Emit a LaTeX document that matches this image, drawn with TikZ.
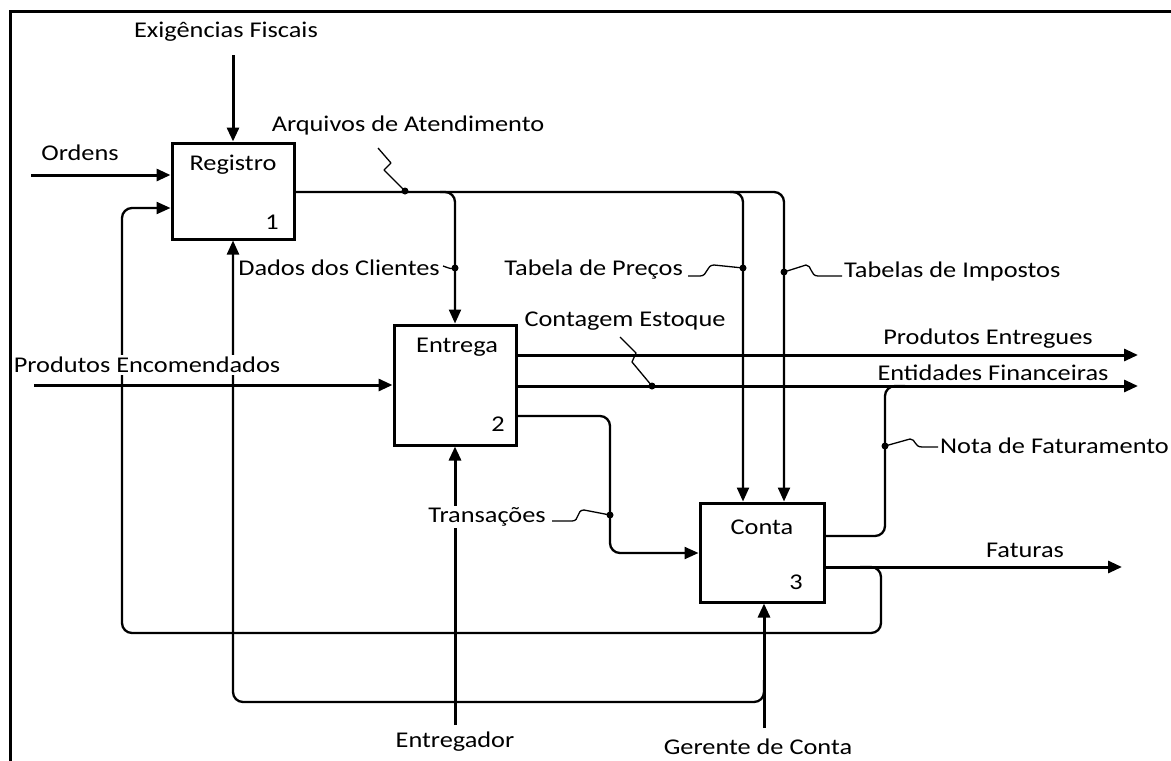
\documentclass[tikz,border=0pt]{standalone}
\usepackage{fontspec}
\setmainfont{Carlito}[FakeStretch=1.17]
\usetikzlibrary{arrows.meta}
\begin{document}
\begin{tikzpicture}[x=1pt,y=-1pt,
  font=\fontsize{22.5}{27}\selectfont,
  box/.style={draw, line width=3pt, inner sep=0pt},
  main/.style={line width=3pt},
  sub/.style={line width=2.3pt, rounded corners=10pt},
  arr/.style={-{Triangle[length=14pt,width=12pt]}},
  jdot/.style={circle, fill, inner sep=0pt, minimum size=7pt},
  squig/.style={line width=1.3pt, line join=round},
  lbl/.style={inner sep=1pt},
  cover/.style={fill=white, inner sep=2pt}]
\useasboundingbox (0,0) rectangle (1171,761);
% frame
\draw[line width=3pt] (10.5,761) -- (10.5,11) -- (1171,11);
% boxes
\node[box, minimum width=122pt, minimum height=96pt] (reg) at (233,191) {};
\node[box, minimum width=122pt, minimum height=120pt] (ent) at (455,385) {};
\node[box, minimum width=124pt, minimum height=99pt] (con) at (762,552.5) {};
% free ends
\coordinate (exigS) at (233,55);
\coordinate (ordW) at (31,175);
\coordinate (fb1) at (860,567);
\coordinate (gm) at (764,680);
\coordinate (encW) at (34,385);
\coordinate (entrS) at (455,725);
\coordinate (gerS) at (764,728);
% connectors
\draw[main,arr] (exigS) -- (reg.north);
\draw[main,arr] (ordW) -- (ordW -| reg.west);
\draw[sub,arr] (fb1) -| (881,633) -| (122,208) -- (reg.west |- 0,208);
\draw[sub,arr] (gm) |- (233,702) -- (reg.south);
\draw[sub,arr] (reg.east |- 0,192) -| (con.north -| 784,0);
\draw[sub,arr] (440,192) -| (ent.north);
\draw[sub,arr] (730,192) -| (con.north -| 743,0);
\draw[main,arr] (encW) -- (ent.west |- 0,385);
\draw[main,arr] (ent.east |- 0,355) -- (1138,355);
\draw[main,arr] (ent.east |- 0,386) -- (1138,386);
\draw[sub,arr] (ent.east |- 0,416) -| (610,553) -- (con.west |- 0,553);
\draw[main,arr] (entrS) -- (ent.south);
\draw[main,arr] (gerS) -- (con.south -| 764,0);
\draw[sub] (con.east |- 0,536) -| (885,386) -- (905,386);
\draw[main,arr] (con.east |- 0,567) -- (1122,567);
% junction dots
\node[jdot] (d1) at (405,191) {};
\node[jdot] (d2) at (455,268) {};
\node[jdot] (d3) at (743,268) {};
\node[jdot] (d4) at (784,272) {};
\node[jdot] (d5) at (652,386) {};
\node[jdot] (d6) at (610,515) {};
\node[jdot] (d7) at (885,446) {};
% squiggles
\draw[squig] (378,148) -- (391,163) -- (384,170) -- (d1.center);
\draw[squig] (443,266) .. controls (447,266) and (448,270) .. (d2.center);
\draw[squig] (688,276) -- (700,276) .. controls (708,276) and (706,265) .. (714,265) -- (d3.center);
\draw[squig] (d4.center) -- (806,265) .. controls (812,265) and (810,276) .. (818,276) -- (842,276);
\draw[squig] (620,337) -- (636,353) -- (632,362) -- (d5.center);
\draw[squig] (552,521) -- (572,521) .. controls (580,521) and (576,510) .. (584,510) -- (d6.center);
\draw[squig] (d7.center) -- (910,439) .. controls (916,439) and (914,447) .. (922,447) -- (938,447);
% labels
\node[lbl] (exig) at (226,32) {Exigências Fiscais};
\node[lbl] (ord) at (80,153) {Ordens};
\node[lbl] (arq) at (408,125) {Arquivos de Atendimento};
\node[lbl] (regt) at (233,165) {Registro};
\node[lbl] (reg1) at (272,222) {1};
\node[lbl, anchor=east] (dados) at (441,268) {Dados dos Clientes};
\node[lbl, anchor=east] (prec) at (684,270) {Tabela de Preços};
\node[lbl, anchor=west] (imp) at (843,271) {Tabelas de Impostos};
\node[lbl] (cont) at (625,321) {Contagem Estoque};
\node[lbl] (entt) at (457,347) {Entrega};
\node[lbl] (ent2) at (498,424) {2};
\node[cover] (enc) at (147,365) {Produtos Encomendados};
\node[lbl] (pent) at (988,339) {Produtos Entregues};
\node[lbl] (fin) at (993,373) {Entidades Financeiras};
\node[lbl, anchor=west] (nota) at (939,446) {Nota de Faturamento};
\node[cover] (trans) at (487,517) {Transações};
\node[lbl] (cont1) at (762,527) {Conta};
\node[lbl] (con3) at (796,582) {3};
\node[lbl] (fat) at (1025,550) {Faturas};
\node[lbl] (entr) at (455,742) {Entregador};
\node[lbl] (ger) at (758,747) {Gerente de Conta};
\end{tikzpicture}
\end{document}
